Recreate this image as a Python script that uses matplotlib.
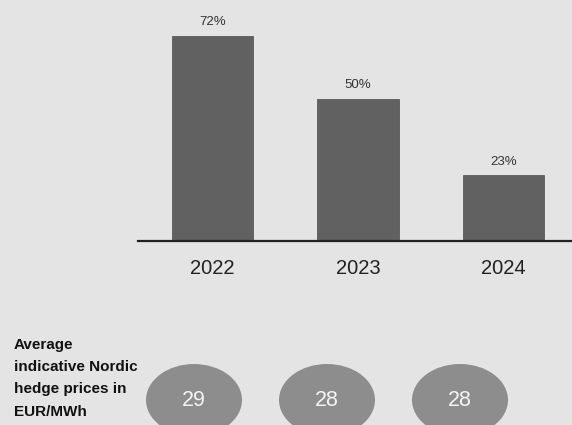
import matplotlib
matplotlib.use("Agg")
import matplotlib.pyplot as plt
from matplotlib.patches import Ellipse

years = ["2022", "2023", "2024"]
shares = [72, 50, 23]
share_labels = ["72%", "50%", "23%"]
hedge_prices = ["29", "28", "28"]
side_label = "Average\nindicative Nordic\nhedge prices in\nEUR/MWh"

BG = "#e4e4e4"
W, H = 572, 425
fig = plt.figure(figsize=(W / 100, H / 100), dpi=100, facecolor=BG)

fam = ["Liberation Sans", "DejaVu Sans"]

# bar axes
left_px, base_px = 138, 241
ax = fig.add_axes([left_px / W, (H - base_px) / H, (W - left_px) / W, base_px / H])
ax.set_facecolor(BG)
ax.patch.set_alpha(0)
x = list(range(len(years)))
ax.bar(x, shares, width=0.557, color="#616161", edgecolor="#5a5a5a", linewidth=0.6)
ax.set_xlim(-0.512, 2.471)
ax.set_ylim(0, 84.6)
for xi, v, lab in zip(x, shares, share_labels):
    ax.text(xi, v + 4.8, lab, ha="center", va="center", fontsize=9.5,
            color="#333333", family=fam)
for s in ["top", "right", "left"]:
    ax.spines[s].set_visible(False)
ax.spines["bottom"].set_color("#222222")
ax.spines["bottom"].set_linewidth(1.6)
ax.set_yticks([])
ax.set_xticks(x)
ax.set_xticklabels(years, fontsize=14.5, color="#222222", family=fam)
ax.tick_params(axis="x", length=0, pad=13)

# overlay axes in pixel coordinates for the price ellipses
ov = fig.add_axes([0, 0, 1, 1])
ov.set_xlim(0, W)
ov.set_ylim(H, 0)
ov.axis("off")
ov.patch.set_alpha(0)
ex0, edx, ey = 194, 133, 400
for i, p in enumerate(hedge_prices):
    cx = ex0 + i * edx
    ov.add_patch(Ellipse((cx, ey), 96, 72, facecolor="#8d8d8d", edgecolor="none"))
    ov.text(cx, ey, p, ha="center", va="center", fontsize=15.5, color="#f4f4f4", family=fam)
ov.text(14, 338, side_label, ha="left", va="top", fontsize=11, fontweight="bold",
        color="#111111", family=fam, linespacing=1.75)

fig.savefig("out.png", dpi=100, facecolor=BG)
